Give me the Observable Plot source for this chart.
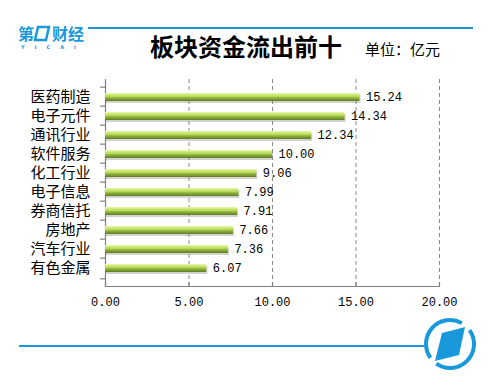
<!DOCTYPE html>
<html><head><meta charset="utf-8">
<script src="https://cdn.jsdelivr.net/npm/d3@7"></script>
<script src="https://cdn.jsdelivr.net/npm/@observablehq/plot@0.6"></script>
<style>
html,body{margin:0;padding:0;background:#fff;}
#wrap{position:relative;width:500px;height:386px;overflow:hidden;font-family:"Noto Sans CJK SC",sans-serif;}
#wrap svg{position:absolute;left:0;top:0;}
#title{position:absolute;left:150px;top:30px;font-size:24px;font-weight:bold;color:#000;white-space:nowrap;line-height:32px;}
#unit{position:absolute;left:365px;top:38px;font-size:15px;color:#000;white-space:nowrap;line-height:22px;}
</style></head><body><div id="wrap"></div>
<script>
const categories = ["医药制造","电子元件","通讯行业","软件服务","化工行业","电子信息","券商信托","房地产","汽车行业","有色金属"];
const values = [15.24,14.34,12.34,10.00,9.06,7.99,7.91,7.66,7.36,6.07];
const xTicks = [0,5,10,15,20];
const titleText = "板块资金流出前十";
const unitText = "单位：亿元";

const data = categories.map((c,i)=>({category:c, value:values[i]}));
const mono = "'Liberation Mono','DejaVu Sans Mono',monospace";
const H = 386, mT = 79, mB = 100;
const band = (H - mT - mB) / categories.length;

const chart = Plot.plot({
  width: 500, height: H,
  marginLeft: 105, marginRight: 61, marginTop: mT, marginBottom: mB,
  style: {background: "transparent", fontFamily: "'Noto Sans CJK SC',sans-serif", color: "#000"},
  x: {domain: [0, 20], label: null},
  y: {domain: categories, padding: 0.59, label: null},
  marks: [
    Plot.ruleX(xTicks.slice(1), {stroke: "#8a8a8a", strokeDasharray: "4,3", strokeWidth: 1}),
    Plot.ruleX(xTicks, {stroke: "#808080", insetTop: (H - mT - mB) - 4, strokeWidth: 1.2}),
    Plot.ruleX([0], {stroke: "#808080", strokeWidth: 1.2}),
    Plot.frame({anchor: "bottom", stroke: "#808080", strokeWidth: 1.2}),
    Plot.ruleY(categories, {x1: 0, x2: 0, insetLeft: -5, dy: -band / 2, stroke: "#808080", strokeWidth: 1.2}),
    Plot.ruleY(categories.slice(-1), {x1: 0, x2: 0, insetLeft: -5, dy: band / 2, stroke: "#808080", strokeWidth: 1.2}),
    Plot.barX(data, {x: "value", y: "category", fill: "#7f7f7f", fillOpacity: 0.35, dy: 2, dx: 1}),
    Plot.barX(data, {x: "value", y: "category", fill: "url(#barGrad)"}),
    Plot.text(data, {x: "value", y: "category", text: d => d.value.toFixed(2), dx: 6, textAnchor: "start", fontSize: 12, fontFamily: mono, fill: "#000"}),
    Plot.axisX({ticks: xTicks, tickFormat: d => d.toFixed(2), tickSize: 0, tickPadding: 11, fontSize: 12, fontFamily: mono, fill: "#000", label: null}),
    Plot.axisY({tickSize: 0, tickPadding: 15, fontSize: 15, fill: "#000", label: null})
  ]
});

const defs = d3.select(chart).insert("defs", ":first-child");
const g = defs.append("linearGradient").attr("id", "barGrad").attr("x1", 0).attr("y1", 0).attr("x2", 0).attr("y2", 1);
[["0%", "#e8f8b0"], ["18%", "#d2ec80"], ["45%", "#b4d856"], ["60%", "#92b43e"], ["100%", "#5e7c22"]]
  .forEach(([o, c]) => g.append("stop").attr("offset", o).attr("stop-color", c));

const wrap = document.getElementById("wrap");
wrap.appendChild(chart);

// decorations
const deco = d3.select(wrap).append("svg").attr("width", 500).attr("height", 386);
const blue = "#1a98dc";
deco.append("line").attr("x1", 88).attr("x2", 473).attr("y1", 28).attr("y2", 28).attr("stroke", blue).attr("stroke-width", 2.2);
deco.append("line").attr("x1", 19).attr("x2", 424).attr("y1", 346).attr("y2", 346).attr("stroke", blue).attr("stroke-width", 2.2);
// logo top-left
deco.append("text").attr("x", 18).attr("y", 40).attr("font-size", 16).attr("font-weight", "bold").attr("fill", blue).attr("font-family", "'Noto Sans CJK SC',sans-serif").text("第");
deco.append("polygon").attr("points", "38,27 49,27 46,40 35,40").attr("fill", "none").attr("stroke", blue).attr("stroke-width", 2.5);
deco.append("text").attr("x", 52).attr("y", 40).attr("font-size", 16).attr("font-weight", "bold").attr("fill", blue).attr("font-family", "'Noto Sans CJK SC',sans-serif").text("财经");
deco.append("text").attr("x", 21).attr("y", 49).attr("font-size", 5).attr("font-weight", "bold").attr("fill", blue).attr("letter-spacing", 10).attr("font-family", "DejaVu Sans").text("YICAI");
// round logo bottom-right
const cx = 450, cy = 344, r = 24;
const arc = d3.arc().innerRadius(r - 2).outerRadius(r + 2);
deco.append("path").attr("transform", `translate(${cx},${cy})`).attr("fill", blue)
  .attr("d", arc({startAngle: 0.95, endAngle: 3.75}));
deco.append("path").attr("transform", `translate(${cx},${cy})`).attr("fill", blue)
  .attr("d", arc({startAngle: 4.1, endAngle: 6.8}));
deco.append("polygon").attr("points", `${cx-8},${cy-11} ${cx+15},${cy-17} ${cx+9},${cy+11} ${cx-15},${cy+17}`).attr("fill", blue);

const t = document.createElement("div"); t.id = "title"; t.textContent = titleText; wrap.appendChild(t);
const u = document.createElement("div"); u.id = "unit"; u.textContent = unitText; wrap.appendChild(u);
</script></body></html>
